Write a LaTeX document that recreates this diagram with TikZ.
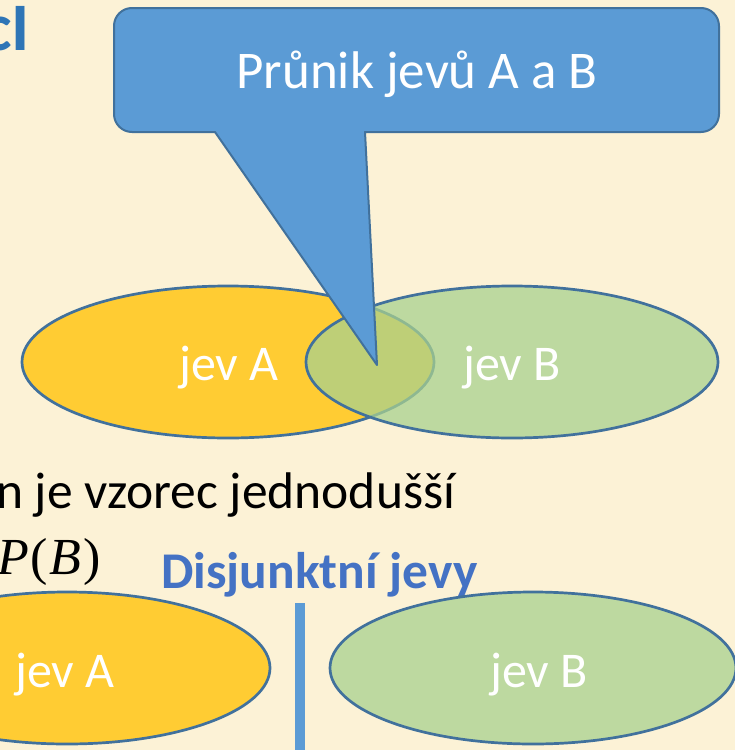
\documentclass[tikz,border=0pt]{standalone}
\usepackage{fontspec}
\setmainfont{Carlito}
\newfontfamily\formulafont{Liberation Serif}
\usetikzlibrary{shapes.geometric}
\definecolor{bgcol}{HTML}{FCF2D6}
\definecolor{edgeblue}{HTML}{41719C}
\definecolor{callblue}{HTML}{5B9BD5}
\definecolor{headblue}{HTML}{2E75B6}
\definecolor{titleblue}{HTML}{4472C4}
\definecolor{yellowA}{HTML}{FFCC33}
\definecolor{greenB}{HTML}{A9D18E}
\tikzset{
  setA/.style={ellipse, draw=edgeblue, line width=2.7pt, fill=yellowA, inner sep=0pt, minimum width=#1, minimum height=152pt},
  setB/.style={ellipse, draw=edgeblue, line width=2.7pt, fill=greenB, fill opacity=0.75, draw opacity=1, inner sep=0pt, minimum width=#1, minimum height=152pt},
  setlabel/.style={text=white, inner sep=0pt, anchor=base, font=\fontsize{50}{58}\selectfont},
  bodytext/.style={text=black, inner sep=0pt, font=\fontsize{51.5}{60}\selectfont},
  calloutshape/.style={fill=callblue, draw=edgeblue, line width=2pt, line join=round},
}
\begin{document}
\begin{tikzpicture}[x=1pt,y=-1pt]
\useasboundingbox (0,0) rectangle (735,750);
\clip (0,0) rectangle (735,750);
\fill[bgcol] (0,0) rectangle (735,750);

% heading fragment
\node[text=headblue, inner sep=0pt, anchor=base east, font=\fontsize{68}{80}\selectfont\bfseries] (head) at (30,50) {cI};

% top Venn diagram
\node[setA=412pt] (topA) at (228,362) {};
\node[setB=412pt] (topB) at (512,362) {};
\node[setlabel] (topAlab) at (229,380) {jev A};
\node[setlabel] (topBlab) at (512,380) {jev B};

% callout
\coordinate (tip) at (377,365);
\path[calloutshape] (tip) -- (215,132) [rounded corners=18pt] -- (114,132) -- (114,8) -- (719,8) -- (719,132) [sharp corners] -- (365,132) -- cycle;
\node[text=white, inner sep=0pt, anchor=base, font=\fontsize{53}{60}\selectfont] (calltext) at (417,88) {Průnik jevů A a B};

% body text
\node[bodytext, anchor=base west] (line1) at (-4,508) {n je vzorec jednodušší};
\node[text=black, inner sep=0pt, anchor=base west, font=\fontsize{52}{60}\formulafont] (formula) at (-3,574) {\textit{P}\kern2pt(\kern1pt\textit{B}\kern2pt)};
\node[text=titleblue, inner sep=0pt, anchor=base west, font=\fontsize{51.5}{60}\selectfont\bfseries] (disj) at (161,588) {Disjunktní jevy};

% bottom disjoint sets
\node[setA=406pt] (botA) at (67,668) {};
\node[setB=406pt] (botB) at (533,668) {};
\node[setlabel] (botAlab) at (65,687) {jev A};
\node[setlabel] (botBlab) at (539,687) {jev B};
\coordinate (sepTop) at (300,603);
\coordinate (sepBot) at (300,752);
\draw[callblue, line width=10pt] (sepTop) -- (sepBot);
\end{tikzpicture}
\end{document}
